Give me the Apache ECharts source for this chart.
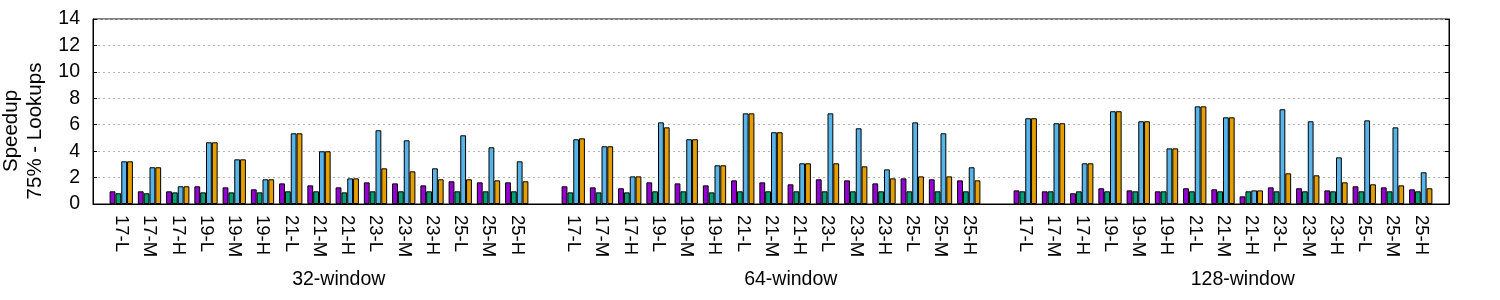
<!DOCTYPE html>
<html>
<head>
<meta charset="utf-8">
<script src="https://cdn.jsdelivr.net/npm/echarts@6/dist/echarts.min.js"></script>
<style>
html,body{margin:0;padding:0;background:#fff;}
#chart{width:1500px;height:300px;}
</style>
</head>
<body>
<div id="chart"></div>
<script>
// ---- data ----
const groupNames = ['32-window', '64-window', '128-window'];
const configs = ['17-L','17-M','17-H','19-L','19-M','19-H','21-L','21-M','21-H','23-L','23-M','23-H','25-L','25-M','25-H'];
const yTicks = [0, 2, 4, 6, 8, 10, 12, 14];

const purple32 = [0.96,0.96,0.96,1.34,1.26,1.11,1.56,1.41,1.26,1.64,1.56,1.41,1.72,1.64,1.64];
const green32  = [0.81,0.81,0.88,0.88,0.88,0.88,0.96,0.96,0.88,0.96,0.96,0.96,0.96,0.96,0.96];
const blue32   = [3.23,2.78,1.34,4.67,3.38,1.87,5.35,3.99,1.94,5.58,4.82,2.70,5.20,4.29,3.23];
const orange32 = [3.23,2.78,1.34,4.67,3.38,1.87,5.35,3.99,1.94,2.70,2.47,1.87,1.87,1.79,1.72];

const purple64 = [1.34,1.26,1.19,1.64,1.56,1.41,1.79,1.64,1.49,1.87,1.79,1.56,1.94,1.87,1.79];
const green64  = [0.88,0.88,0.88,0.96,0.96,0.88,0.96,0.96,0.96,0.96,0.96,0.96,0.96,0.96,0.96];
const blue64   = [4.90,4.37,2.09,6.18,4.90,2.93,6.86,5.43,3.08,6.86,5.73,2.62,6.18,5.35,2.78];
const orange64 = [4.97,4.37,2.09,5.80,4.90,2.93,6.86,5.43,3.08,3.08,2.85,1.94,2.09,2.09,1.79];

const purple128 = [1.03,0.96,0.81,1.19,1.03,0.96,1.19,1.11,0.58,1.26,1.19,1.03,1.34,1.26,1.11];
const green128  = [0.96,0.96,0.96,0.96,0.96,0.96,0.96,0.96,0.96,0.96,0.96,0.96,0.96,0.96,0.96];
const blue128   = [6.49,6.11,3.08,7.02,6.26,4.21,7.39,6.56,1.03,7.17,6.26,3.53,6.33,5.80,2.40];
const orange128 = [6.49,6.11,3.08,7.02,6.26,4.21,7.39,6.56,1.03,2.32,2.17,1.64,1.49,1.41,1.19];

const seriesGroups = [
  [purple32, purple64, purple128],
  [green32, green64, green128],
  [blue32, blue64, blue128],
  [orange32, orange64, orange128]
];
const seriesColors = ['#9400D3', '#009E73', '#56B4E9', '#E69F00'];

// ---- build category slots: blank, group, blank, group, blank, group, blank ----
const cats = [''];
groupNames.forEach((g, gi) => {
  configs.forEach(c => cats.push(c));
  cats.push('');
});
const groupStarts = groupNames.map((g, gi) => 1 + gi * (configs.length + 1));

function buildSeriesData(arrs) {
  const out = [null];
  arrs.forEach(a => { a.forEach(v => out.push(v)); out.push(null); });
  return out;
}

const FONT = 'Liberation Sans';
const labelCenters = groupStarts.map(s => s + (configs.length - 1) / 2 + 0.7);

const chart = echarts.init(document.getElementById('chart'), null, {renderer: 'canvas'});
const yMax = yTicks[yTicks.length - 1];
chart.setOption({
  animation: false,
  backgroundColor: '#fff',
  grid: {left: 93, right: 51, top: 19, height: 185, show: true, borderColor: '#000', borderWidth: 1, backgroundColor: 'transparent'},
  xAxis: [{
    type: 'category',
    data: cats,
    boundaryGap: false,
    axisLine: {show: true, lineStyle: {color: '#000', width: 1}},
    axisTick: {show: false},
    splitLine: {show: false},
    axisLabel: {interval: 0, rotate: -90, margin: 11, color: '#000', fontSize: 18.5, fontFamily: FONT}
  }, {
    type: 'value',
    min: 0, max: cats.length - 1,
    position: 'bottom',
    axisLine: {show: false}, axisTick: {show: false}, splitLine: {show: false},
    axisLabel: {
      show: true, customValues: labelCenters, margin: 66, color: '#000', fontSize: 19.5, fontFamily: FONT,
      formatter: function (v) {
        let best = 0, d = Infinity;
        labelCenters.forEach((c, i) => { if (Math.abs(c - v) < d) { d = Math.abs(c - v); best = i; } });
        return groupNames[best];
      }
    }
  }],
  yAxis: [{
    type: 'value', min: yTicks[0], max: yMax, interval: 2,
    axisLine: {show: true, lineStyle: {color: '#000'}},
    axisTick: {show: true, inside: true, length: 4, lineStyle: {color: '#000'}},
    splitLine: {show: true, lineStyle: {color: '#b4b4b4', type: [2, 3], width: 1}},
    axisLabel: {color: '#000', fontSize: 19.5, fontFamily: FONT, margin: 13}
  }, {
    type: 'value', min: yTicks[0], max: yMax, interval: 2, position: 'right',
    axisLine: {show: true, lineStyle: {color: '#000'}},
    axisTick: {show: true, inside: true, length: 4, lineStyle: {color: '#000'}},
    splitLine: {show: false},
    axisLabel: {show: false}
  }],
  graphic: [{
    type: 'text',
    x: 23, y: 131,
    rotation: Math.PI / 2,
    style: {
      text: 'Speedup\n75% - Lookups',
      fill: '#000',
      font: '20.5px "Liberation Sans"',
      align: 'center',
      verticalAlign: 'middle',
      lineHeight: 24
    }
  }],
  series: seriesGroups.map((arrs, i) => ({
    type: 'bar',
    name: 'S' + (i + 1),
    xAxisIndex: 0, yAxisIndex: 0,
    data: buildSeriesData(arrs),
    barGap: '0%',
    barCategoryGap: '17.5%',
    itemStyle: {color: seriesColors[i], borderColor: '#000', borderWidth: 1},
    emphasis: {disabled: true}
  }))
});
</script>
</body>
</html>
